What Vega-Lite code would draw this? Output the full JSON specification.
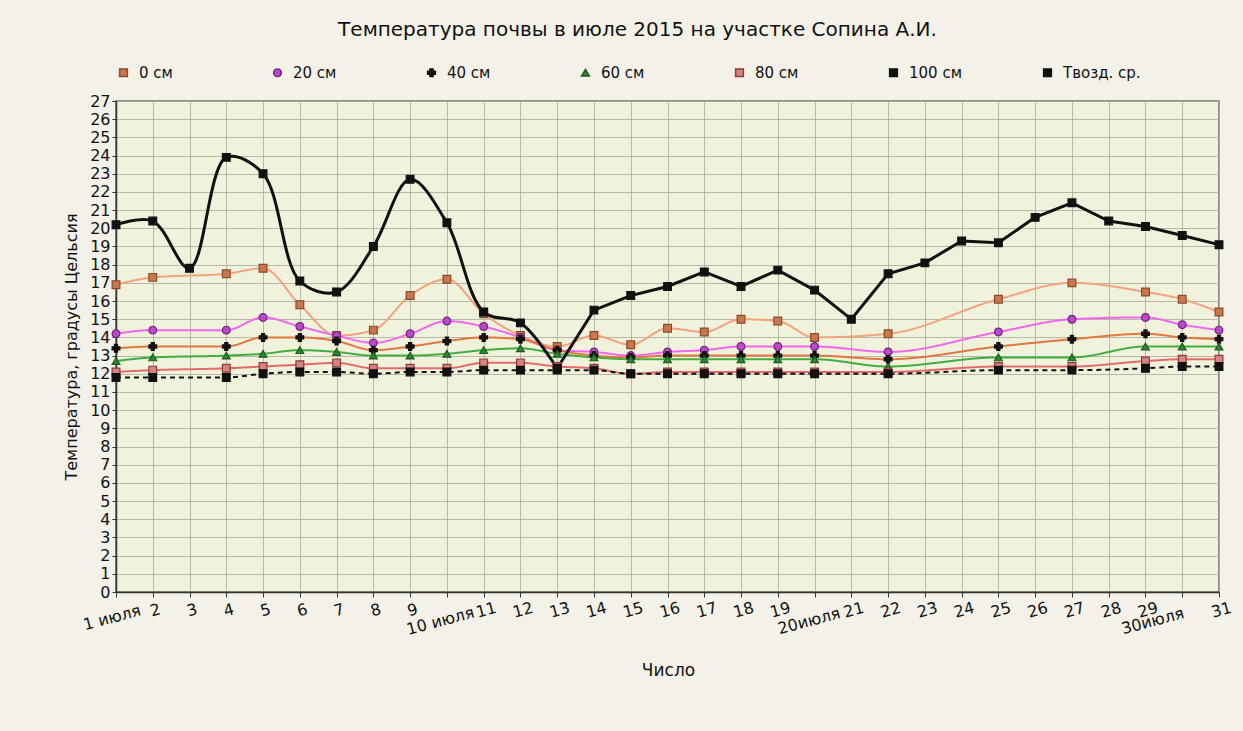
{
  "$schema": "https://vega.github.io/schema/vega-lite/v6.json",
  "autosize": "none",
  "width": 1103,
  "height": 491,
  "padding": {"left": 116, "top": 101, "right": 24, "bottom": 139},
  "background": "#f4f1e9",
  "title": {"text": "Температура почвы в июле 2015 на участке Сопина А.И.", "anchor": "middle", "dx": -30, "offset": 25, "fontSize": 20, "fontWeight": "normal", "font": "DejaVu Sans", "color": "#111"},
  "config": {
    "view": {"fill": "#f1f2dc", "stroke": "#707060", "strokeWidth": 1.5},
    "font": "DejaVu Sans",
    "axis": {"labelFont": "DejaVu Sans", "titleFont": "DejaVu Sans", "labelColor": "#111", "titleColor": "#111", "labelFontSize": 16, "titleFontSize": 17, "titleFontWeight": "normal", "gridColor": "#a9aa98", "gridOpacity": 0.8, "domainColor": "#333", "tickColor": "#333", "domainWidth": 1.5},
    "legend": {"labelFont": "DejaVu Sans", "labelFontSize": 15, "labelColor": "#111"}
  },
  "data": {"values": [
    {"d":1,"s":"0 см","t":16.9},{"d":2,"s":"0 см","t":17.3},{"d":4,"s":"0 см","t":17.5},{"d":5,"s":"0 см","t":17.8},{"d":6,"s":"0 см","t":15.8},{"d":7,"s":"0 см","t":14.1},{"d":8,"s":"0 см","t":14.4},{"d":9,"s":"0 см","t":16.3},{"d":10,"s":"0 см","t":17.2},{"d":11,"s":"0 см","t":15.3},{"d":12,"s":"0 см","t":14.1},{"d":13,"s":"0 см","t":13.5},{"d":14,"s":"0 см","t":14.1},{"d":15,"s":"0 см","t":13.6},{"d":16,"s":"0 см","t":14.5},{"d":17,"s":"0 см","t":14.3},{"d":18,"s":"0 см","t":15.0},{"d":19,"s":"0 см","t":14.9},{"d":20,"s":"0 см","t":14.0},{"d":22,"s":"0 см","t":14.2},{"d":25,"s":"0 см","t":16.1},{"d":27,"s":"0 см","t":17.0},{"d":29,"s":"0 см","t":16.5},{"d":30,"s":"0 см","t":16.1},{"d":31,"s":"0 см","t":15.4},
    {"d":1,"s":"20 см","t":14.2},{"d":2,"s":"20 см","t":14.4},{"d":4,"s":"20 см","t":14.4},{"d":5,"s":"20 см","t":15.1},{"d":6,"s":"20 см","t":14.6},{"d":7,"s":"20 см","t":14.1},{"d":8,"s":"20 см","t":13.7},{"d":9,"s":"20 см","t":14.2},{"d":10,"s":"20 см","t":14.9},{"d":11,"s":"20 см","t":14.6},{"d":12,"s":"20 см","t":14.0},{"d":13,"s":"20 см","t":13.3},{"d":14,"s":"20 см","t":13.2},{"d":15,"s":"20 см","t":13.0},{"d":16,"s":"20 см","t":13.2},{"d":17,"s":"20 см","t":13.3},{"d":18,"s":"20 см","t":13.5},{"d":19,"s":"20 см","t":13.5},{"d":20,"s":"20 см","t":13.5},{"d":22,"s":"20 см","t":13.2},{"d":25,"s":"20 см","t":14.3},{"d":27,"s":"20 см","t":15.0},{"d":29,"s":"20 см","t":15.1},{"d":30,"s":"20 см","t":14.7},{"d":31,"s":"20 см","t":14.4},
    {"d":1,"s":"40 см","t":13.4},{"d":2,"s":"40 см","t":13.5},{"d":4,"s":"40 см","t":13.5},{"d":5,"s":"40 см","t":14.0},{"d":6,"s":"40 см","t":14.0},{"d":7,"s":"40 см","t":13.8},{"d":8,"s":"40 см","t":13.3},{"d":9,"s":"40 см","t":13.5},{"d":10,"s":"40 см","t":13.8},{"d":11,"s":"40 см","t":14.0},{"d":12,"s":"40 см","t":13.9},{"d":13,"s":"40 см","t":13.3},{"d":14,"s":"40 см","t":13.0},{"d":15,"s":"40 см","t":12.9},{"d":16,"s":"40 см","t":13.0},{"d":17,"s":"40 см","t":13.0},{"d":18,"s":"40 см","t":13.0},{"d":19,"s":"40 см","t":13.0},{"d":20,"s":"40 см","t":13.0},{"d":22,"s":"40 см","t":12.8},{"d":25,"s":"40 см","t":13.5},{"d":27,"s":"40 см","t":13.9},{"d":29,"s":"40 см","t":14.2},{"d":30,"s":"40 см","t":14.0},{"d":31,"s":"40 см","t":13.9},
    {"d":1,"s":"60 см","t":12.7},{"d":2,"s":"60 см","t":12.9},{"d":4,"s":"60 см","t":13.0},{"d":5,"s":"60 см","t":13.1},{"d":6,"s":"60 см","t":13.3},{"d":7,"s":"60 см","t":13.2},{"d":8,"s":"60 см","t":13.0},{"d":9,"s":"60 см","t":13.0},{"d":10,"s":"60 см","t":13.1},{"d":11,"s":"60 см","t":13.3},{"d":12,"s":"60 см","t":13.4},{"d":13,"s":"60 см","t":13.1},{"d":14,"s":"60 см","t":12.9},{"d":15,"s":"60 см","t":12.8},{"d":16,"s":"60 см","t":12.8},{"d":17,"s":"60 см","t":12.8},{"d":18,"s":"60 см","t":12.8},{"d":19,"s":"60 см","t":12.8},{"d":20,"s":"60 см","t":12.8},{"d":22,"s":"60 см","t":12.4},{"d":25,"s":"60 см","t":12.9},{"d":27,"s":"60 см","t":12.9},{"d":29,"s":"60 см","t":13.5},{"d":30,"s":"60 см","t":13.5},{"d":31,"s":"60 см","t":13.5},
    {"d":1,"s":"80 см","t":12.1},{"d":2,"s":"80 см","t":12.2},{"d":4,"s":"80 см","t":12.3},{"d":5,"s":"80 см","t":12.4},{"d":6,"s":"80 см","t":12.5},{"d":7,"s":"80 см","t":12.6},{"d":8,"s":"80 см","t":12.3},{"d":9,"s":"80 см","t":12.3},{"d":10,"s":"80 см","t":12.3},{"d":11,"s":"80 см","t":12.6},{"d":12,"s":"80 см","t":12.6},{"d":13,"s":"80 см","t":12.4},{"d":14,"s":"80 см","t":12.3},{"d":15,"s":"80 см","t":12.0},{"d":16,"s":"80 см","t":12.1},{"d":17,"s":"80 см","t":12.1},{"d":18,"s":"80 см","t":12.1},{"d":19,"s":"80 см","t":12.1},{"d":20,"s":"80 см","t":12.1},{"d":22,"s":"80 см","t":12.1},{"d":25,"s":"80 см","t":12.4},{"d":27,"s":"80 см","t":12.4},{"d":29,"s":"80 см","t":12.7},{"d":30,"s":"80 см","t":12.8},{"d":31,"s":"80 см","t":12.8},
    {"d":1,"s":"100 см","t":11.8},{"d":2,"s":"100 см","t":11.8},{"d":4,"s":"100 см","t":11.8},{"d":5,"s":"100 см","t":12.0},{"d":6,"s":"100 см","t":12.1},{"d":7,"s":"100 см","t":12.1},{"d":8,"s":"100 см","t":12.0},{"d":9,"s":"100 см","t":12.1},{"d":10,"s":"100 см","t":12.1},{"d":11,"s":"100 см","t":12.2},{"d":12,"s":"100 см","t":12.2},{"d":13,"s":"100 см","t":12.2},{"d":14,"s":"100 см","t":12.2},{"d":15,"s":"100 см","t":12.0},{"d":16,"s":"100 см","t":12.0},{"d":17,"s":"100 см","t":12.0},{"d":18,"s":"100 см","t":12.0},{"d":19,"s":"100 см","t":12.0},{"d":20,"s":"100 см","t":12.0},{"d":22,"s":"100 см","t":12.0},{"d":25,"s":"100 см","t":12.2},{"d":27,"s":"100 см","t":12.2},{"d":29,"s":"100 см","t":12.3},{"d":30,"s":"100 см","t":12.4},{"d":31,"s":"100 см","t":12.4},
    {"d":1,"s":"Твозд. ср.","t":20.2},{"d":2,"s":"Твозд. ср.","t":20.4},{"d":3,"s":"Твозд. ср.","t":17.8},{"d":4,"s":"Твозд. ср.","t":23.9},{"d":5,"s":"Твозд. ср.","t":23.0},{"d":6,"s":"Твозд. ср.","t":17.1},{"d":7,"s":"Твозд. ср.","t":16.5},{"d":8,"s":"Твозд. ср.","t":19.0},{"d":9,"s":"Твозд. ср.","t":22.7},{"d":10,"s":"Твозд. ср.","t":20.3},{"d":11,"s":"Твозд. ср.","t":15.4},{"d":12,"s":"Твозд. ср.","t":14.8},{"d":13,"s":"Твозд. ср.","t":12.3},{"d":14,"s":"Твозд. ср.","t":15.5},{"d":15,"s":"Твозд. ср.","t":16.3},{"d":16,"s":"Твозд. ср.","t":16.8},{"d":17,"s":"Твозд. ср.","t":17.6},{"d":18,"s":"Твозд. ср.","t":16.8},{"d":19,"s":"Твозд. ср.","t":17.7},{"d":20,"s":"Твозд. ср.","t":16.6},{"d":21,"s":"Твозд. ср.","t":15.0},{"d":22,"s":"Твозд. ср.","t":17.5},{"d":23,"s":"Твозд. ср.","t":18.1},{"d":24,"s":"Твозд. ср.","t":19.3},{"d":25,"s":"Твозд. ср.","t":19.2},{"d":26,"s":"Твозд. ср.","t":20.6},{"d":27,"s":"Твозд. ср.","t":21.4},{"d":28,"s":"Твозд. ср.","t":20.4},{"d":29,"s":"Твозд. ср.","t":20.1},{"d":30,"s":"Твозд. ср.","t":19.6},{"d":31,"s":"Твозд. ср.","t":19.1}
  ]},
  "encoding": {
    "x": {"field": "d", "type": "quantitative", "scale": {"domain": [1, 31], "nice": false, "zero": false},
      "axis": {"title": "Число", "titleY": 70, "titleX": 552, "labelOverlap": false, "labelFlush": false, "values": [1,2,3,4,5,6,7,8,9,10,11,12,13,14,15,16,17,18,19,20,21,22,23,24,25,26,27,28,29,30,31],
        "labelExpr": "datum.value == 1 ? '1 июля' : datum.value == 10 ? '10 июля' : datum.value == 20 ? '20июля' : datum.value == 30 ? '30июля' : datum.label",
        "labelAngle": -15,
        "labelAlign": {"condition": {"test": "datum.value == 1", "value": "right"}, "value": "center"},
        "labelOffset": {"condition": [{"test": "datum.value == 1", "value": 22}, {"test": "datum.value == 30", "value": -32}, {"test": "datum.value == 20", "value": -8}, {"test": "datum.value == 10", "value": -9}], "value": 0},
        "labelPadding": {"condition": {"test": "datum.value == 10 || datum.value == 20 || datum.value == 30", "value": 16}, "value": 5},
        "labelBaseline": "top", "tickSize": 5}},
    "y": {"field": "t", "type": "quantitative", "scale": {"domain": [0, 27], "nice": false},
      "axis": {"title": "Температура, градусы Цельсия", "labelOverlap": false, "values": [0,1,2,3,4,5,6,7,8,9,10,11,12,13,14,15,16,17,18,19,20,21,22,23,24,25,26,27], "labelPadding": 2, "tickSize": 4, "titlePadding": 10, "titleFontSize": 16}}
  },
  "layer": [
    {
      "transform": [{"filter": "datum.s != 'Твозд. ср.'"}],
      "mark": {"type": "line", "interpolate": "monotone", "strokeWidth": 2},
      "encoding": {
        "color": {"field": "s", "type": "nominal", "legend": null,
          "scale": {"domain": ["0 см","20 см","40 см","60 см","80 см","100 см"], "range": ["#f3a27c","#f266f0","#e2763e","#3fae3f","#e46a6a","#111111"]}},
        "strokeDash": {"field": "s", "type": "nominal", "legend": null,
          "scale": {"domain": ["0 см","20 см","40 см","60 см","80 см","100 см"], "range": [[1,0],[1,0],[1,0],[1,0],[1,0],[5,4]]}}
      }
    },
    {
      "transform": [{"filter": "datum.s == 'Твозд. ср.' && datum.d <= 13"}],
      "mark": {"type": "line", "interpolate": "catmull-rom", "strokeWidth": 3, "color": "#111"},
      "encoding": {}
    },
    {
      "transform": [{"filter": "datum.s == 'Твозд. ср.' && datum.d >= 13"}],
      "mark": {"type": "line", "interpolate": "linear", "strokeWidth": 3, "color": "#111"},
      "encoding": {}
    },
    {
      "mark": {"type": "point", "filled": false, "size": 60, "strokeWidth": 1.2, "opacity": 1},
      "encoding": {
        "shape": {"field": "s", "type": "nominal", "title": null,
          "scale": {"domain": ["0 см","20 см","40 см","60 см","80 см","100 см","Твозд. ср."], "range": ["square","circle","cross","triangle-up","square","square","square"]},
          "legend": {"orient": "none", "legendX": 0, "legendY": -36, "direction": "horizontal", "columns": 7, "gridAlign": "all", "columnPadding": 53, "symbolSize": 60, "labelOffset": 8}},
        "fill": {"field": "s", "type": "nominal", "title": null,
          "scale": {"domain": ["0 см","20 см","40 см","60 см","80 см","100 см","Твозд. ср."], "range": ["#c9774d","#b64cc6","#111111","#2f8a2f","#d98282","#111111","#111111"]}},
        "stroke": {"field": "s", "type": "nominal", "title": null,
          "scale": {"domain": ["0 см","20 см","40 см","60 см","80 см","100 см","Твозд. ср."], "range": ["#8a4a2c","#7a1f86","#111111","#1f5a1f","#8e3a3a","#111111","#111111"]}}
      }
    }
  ]
}
